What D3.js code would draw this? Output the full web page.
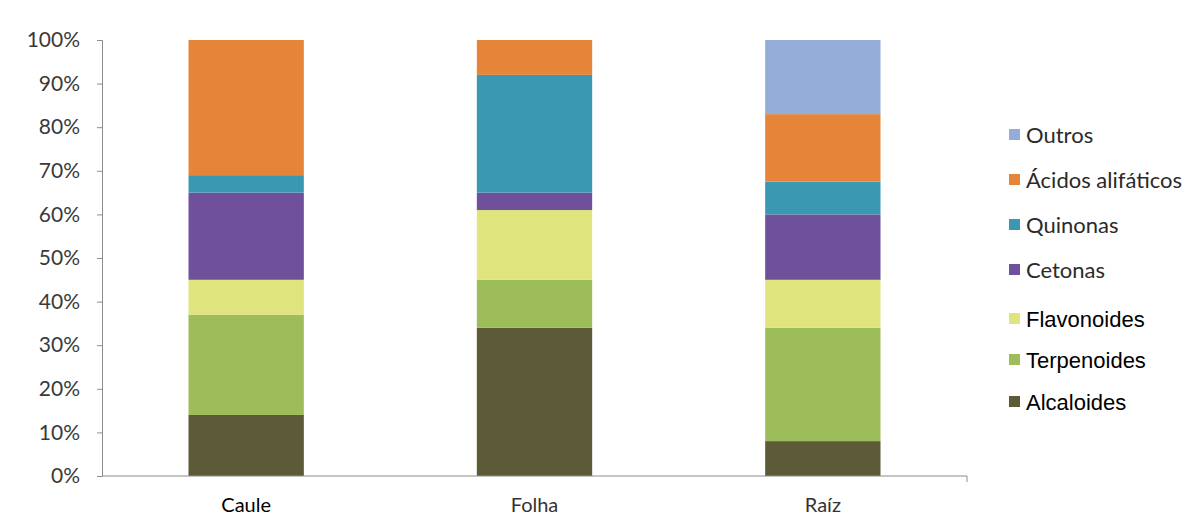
<!DOCTYPE html>
<html>
<head>
<meta charset="utf-8">
<script src="https://cdn.jsdelivr.net/npm/d3@7"></script>
<style>
  body { margin: 0; background: #fff; }
</style>
</head>
<body>
<script>
// categories and series (percent of each organ)
const organs = ["Caule", "Folha", "Raíz"];
const classes = ["Alcaloides", "Terpenoides", "Flavonoides", "Cetonas", "Quinonas", "Ácidos alifáticos", "Outros"];
const alcaloides  = [14, 34, 8];
const terpenoides = [23, 11, 26];
const flavonoides = [8, 16, 11];
const cetonas     = [20, 4, 15];
const quinonas    = [4, 27, 7.5];
const acidos      = [31, 8, 15.5];
const outros      = [0, 0, 17];
const yTicks = [0, 10, 20, 30, 40, 50, 60, 70, 80, 90, 100];

const colors = ["#5c5a37", "#9dbd5b", "#dfe47c", "#6e519a", "#3a98b3", "#e6853a", "#93acd8"];
const legendFonts = ["Liberation Sans", "Liberation Sans", "Liberation Sans", "Lato", "Lato", "Lato", "Lato"];

const width = 1194, height = 522;
const plotLeft = 102, plotRight = 967, plotTop = 40, plotBottom = 476;

const svg = d3.select("body").append("svg")
    .attr("width", width)
    .attr("height", height);

const x = d3.scaleBand()
    .domain(organs)
    .range([plotLeft, plotRight])
    .paddingInner(0.6)
    .paddingOuter(0.3);

const y = d3.scaleLinear()
    .domain([0, 100])
    .range([plotBottom, plotTop]);

// stack the series
const series = [alcaloides, terpenoides, flavonoides, cetonas, quinonas, acidos, outros];
const rows = organs.map(function(o, i) {
    const r = { organ: o };
    classes.forEach(function(c, k) { r[c] = series[k][i]; });
    return r;
});
const stacked = d3.stack().keys(classes)(rows);

svg.selectAll("g.layer")
    .data(stacked)
    .enter()
    .append("g")
    .attr("class", "layer")
    .attr("fill", function(d, i) { return colors[i]; })
    .selectAll("rect")
    .data(function(d) { return d; })
    .enter()
    .append("rect")
    .attr("x", function(d) { return x(d.data.organ); })
    .attr("width", x.bandwidth())
    .attr("y", function(d) { return y(d[1]); })
    .attr("height", function(d) { return y(d[0]) - y(d[1]); });

// y axis
const yAxis = svg.append("g")
    .attr("transform", "translate(" + plotLeft + ",0)")
    .call(d3.axisLeft(y).tickValues(yTicks).tickSize(5).tickPadding(17)
        .tickFormat(function(d) { return d + "%"; }));
yAxis.select(".domain").attr("stroke", "#8c8c8c");
yAxis.selectAll(".tick line").attr("stroke", "#8c8c8c");
yAxis.selectAll("text")
    .style("font-family", "Lato, 'Open Sans', sans-serif")
    .style("font-size", "21px")
    .attr("fill", "#3a3a3a");

// x axis
const xAxis = svg.append("g")
    .attr("transform", "translate(0," + plotBottom + ")")
    .call(d3.axisBottom(x).tickSize(0).tickPadding(22));
xAxis.select(".domain").attr("stroke", "#8c8c8c").attr("d", "M" + plotLeft + ",0H" + plotRight + "V6");
xAxis.selectAll("text")
    .style("font-family", "Lato, 'Open Sans', sans-serif")
    .style("font-size", "20px")
    .attr("fill", function(d, i) { return i === 0 ? "#000" : "#333"; });

// legend
const legendY = [402, 360, 319, 270, 225, 180, 135];
const legend = svg.append("g");
const items = legend.selectAll("g")
    .data(classes)
    .enter()
    .append("g")
    .attr("transform", function(d, i) { return "translate(1009," + legendY[i] + ")"; });
items.append("rect")
    .attr("x", 0).attr("y", -6)
    .attr("width", 11).attr("height", 11)
    .attr("fill", function(d, i) { return colors[i]; });
items.append("text")
    .attr("x", 17)
    .attr("dy", "0.35em")
    .style("font-family", function(d, i) { return legendFonts[i]; })
    .style("font-size", "22px")
    .attr("fill", function(d, i) { return i < 3 ? "#000" : "#2a2a2a"; })
    .text(function(d) { return d; });
</script>
</body>
</html>
